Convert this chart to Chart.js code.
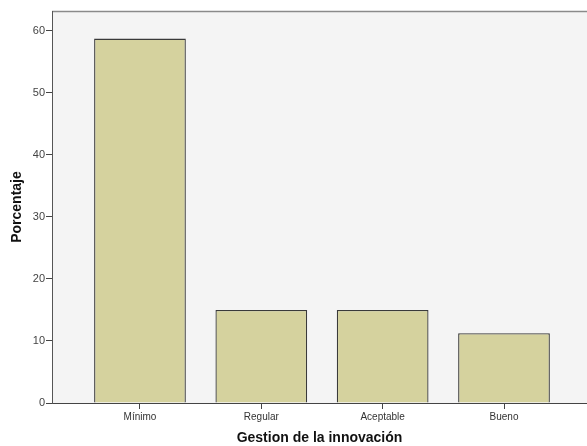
<!DOCTYPE html>
<html>
<head>
<meta charset="utf-8">
<script src="https://cdn.jsdelivr.net/npm/chart.js@4"></script>
<style>
  html, body { margin: 0; padding: 0; background: #ffffff; overflow: hidden; }
  #wrap { width: 587px; height: 446px; }
</style>
</head>
<body>
<div id="wrap"><canvas id="c" width="587" height="446"></canvas></div>
<script>
const categories = ["Mínimo", "Regular", "Aceptable", "Bueno"];
const percentages = [58.75, 15.0, 15.0, 11.25];
const yTicks = [0, 10, 20, 30, 40, 50, 60];
const yTitle = "Porcentaje";
const xTitle = "Gestion de la innovación";

const FONT = "'Liberation Sans', Arial, sans-serif";

const plotBg = {
  id: 'plotBg',
  beforeDraw(chart) {
    const {ctx, chartArea: a} = chart;
    ctx.save();
    ctx.fillStyle = '#f4f4f4';
    ctx.fillRect(a.left, a.top, a.right - a.left, a.bottom - a.top);
    ctx.strokeStyle = '#8a8a8a';
    ctx.lineWidth = 1.5;
    ctx.beginPath();
    ctx.moveTo(a.left, a.top + 0.5);
    ctx.lineTo(a.right, a.top + 0.5);
    ctx.stroke();
    ctx.restore();
  }
};

new Chart(document.getElementById('c'), {
  type: 'bar',
  data: {
    datasets: [{
      data: categories.map((c, i) => ({x: i, y: percentages[i]})),
      backgroundColor: '#d5d29e',
      borderColor: '#3a3a3a',
      borderWidth: 1.3,
      barPercentage: 0.756,
      categoryPercentage: 1.0
    }]
  },
  options: {
    responsive: false,
    animation: false,
    devicePixelRatio: 1,
    layout: { padding: { top: 11, right: 0, left: 0, bottom: 0 } },
    plugins: { legend: { display: false }, tooltip: { enabled: false } },
    scales: {
      x: {
        type: 'linear',
        offset: false,
        min: -0.725,
        max: 3.684,
        afterBuildTicks: (axis) => { axis.ticks = categories.map((c, i) => ({value: i})); },
        afterFit: (axis) => { axis.height = 43; },
        ticks: {
          callback: (v) => categories[v],
          font: { family: FONT, size: 10 },
          color: '#333333',
          padding: 2,
          maxRotation: 0,
          autoSkip: false
        },
        grid: { offset: false, drawOnChartArea: false, drawTicks: true, tickLength: 6, color: '#444444' },
        border: { display: true, color: '#444444', width: 1 },
        title: {
          display: true,
          text: xTitle,
          color: '#111111',
          font: { family: FONT, size: 14, weight: 'bold', lineHeight: 1.1 },
          padding: { top: 0, bottom: 0 }
        }
      },
      y: {
        min: 0,
        max: 63.2,
        afterBuildTicks: (axis) => { axis.ticks = yTicks.map(v => ({value: v})); },
        afterFit: (axis) => { axis.width = 52; },
        ticks: {
          font: { family: FONT, size: 11 },
          color: '#444444',
          padding: 1
        },
        grid: { drawOnChartArea: false, drawTicks: true, tickLength: 6, color: '#444444' },
        border: { display: true, color: '#555555', width: 1 },
        title: {
          display: true,
          text: yTitle,
          color: '#111111',
          font: { family: FONT, size: 14, weight: 'bold', lineHeight: 1.1 },
          padding: { top: 9, bottom: 0 }
        }
      }
    }
  },
  plugins: [plotBg]
});
</script>
</body>
</html>
